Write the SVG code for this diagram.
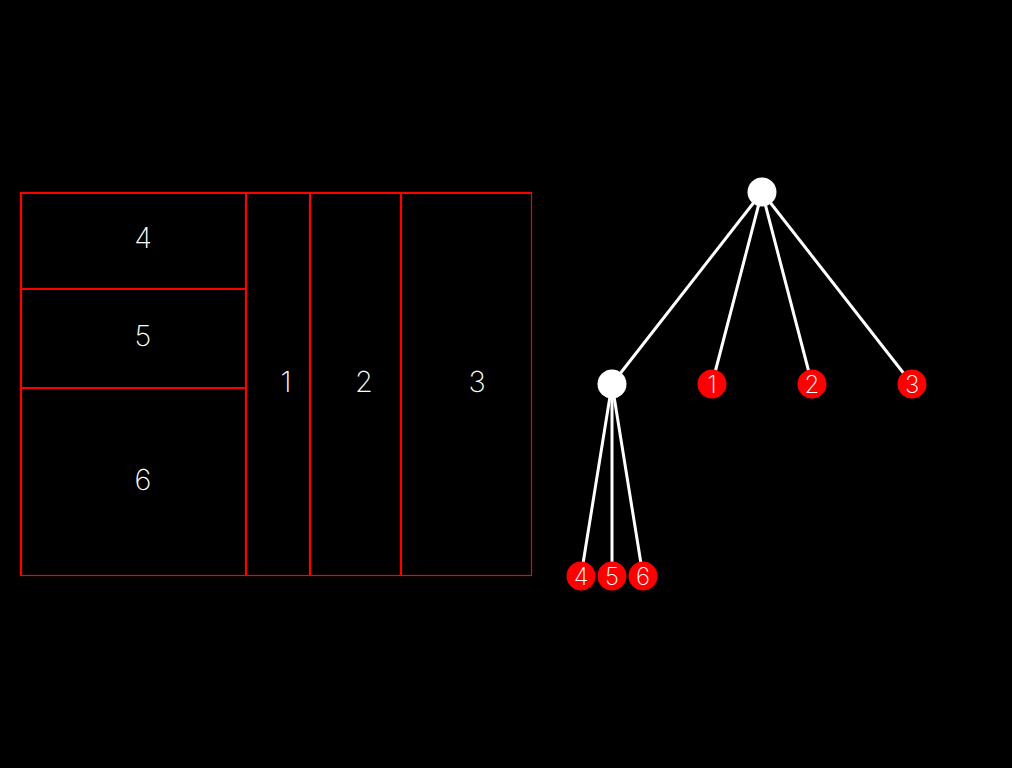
<svg xmlns="http://www.w3.org/2000/svg" width="1012" height="768" viewBox="0 0 1012 768">
  <style>
    .frame { fill: none; stroke: #ff0000; stroke-width: 1.2; }
    .div { stroke: #ff0000; stroke-width: 2.2; }
    .lbl { fill: #ffffff; font-family: Inter, "DejaVu Sans", sans-serif; font-weight: 200; text-anchor: middle; }
    .big { font-size: 29px; }
    .small { font-size: 24px; }
    .edge { stroke: #ffffff; stroke-width: 3; }
    .inner { fill: #ffffff; }
    .leaf { fill: #ff0000; }
  </style>
  <rect width="1012" height="768" fill="#000000"/>

  <!-- partition of the rectangle -->
  <g id="layout">
    <rect class="frame" x="20.5" y="192.5" width="511" height="383"/>
    <line class="div" x1="21" y1="193" x2="21" y2="575"/>
    <line class="div" x1="20" y1="193" x2="531" y2="193"/>
    <line class="div" x1="246" y1="192" x2="246" y2="575"/>
    <line class="div" x1="310" y1="192" x2="310" y2="575"/>
    <line class="div" x1="401" y1="192" x2="401" y2="575"/>
    <line class="div" x1="20" y1="289" x2="246" y2="289"/>
    <line class="div" x1="20" y1="388" x2="246" y2="388"/>
    <text class="lbl big" x="143" y="248">4</text>
    <text class="lbl big" x="143" y="346">5</text>
    <text class="lbl big" x="143" y="490">6</text>
    <text class="lbl big" x="286" y="392">1</text>
    <text class="lbl big" x="364" y="392">2</text>
    <text class="lbl big" x="477" y="392">3</text>
  </g>

  <!-- tree edges -->
  <g id="connectors">
    <line class="edge" x1="762" y1="192" x2="612" y2="384"/>
    <line class="edge" x1="762" y1="192" x2="712" y2="384"/>
    <line class="edge" x1="762" y1="192" x2="812" y2="384"/>
    <line class="edge" x1="762" y1="192" x2="912" y2="384"/>
    <line class="edge" x1="612" y1="384" x2="581" y2="576"/>
    <line class="edge" x1="612" y1="384" x2="612" y2="576"/>
    <line class="edge" x1="612" y1="384" x2="643" y2="576"/>
  </g>

  <!-- tree nodes -->
  <g id="root"><circle class="inner" cx="762" cy="192" r="14.5"/></g>
  <g id="split"><circle class="inner" cx="612" cy="384" r="14.5"/></g>
  <g id="leaf1"><circle class="leaf" cx="712" cy="384" r="14.5"/><text class="lbl small" x="712" y="393">1</text></g>
  <g id="leaf2"><circle class="leaf" cx="812" cy="384" r="14.5"/><text class="lbl small" x="812" y="393">2</text></g>
  <g id="leaf3"><circle class="leaf" cx="912" cy="384" r="14.5"/><text class="lbl small" x="912" y="393">3</text></g>
  <g id="leaf4"><circle class="leaf" cx="581" cy="576" r="14.5"/><text class="lbl small" x="581" y="585">4</text></g>
  <g id="leaf5"><circle class="leaf" cx="612" cy="576" r="14.5"/><text class="lbl small" x="612" y="585">5</text></g>
  <g id="leaf6"><circle class="leaf" cx="643" cy="576" r="14.5"/><text class="lbl small" x="643" y="585">6</text></g>
</svg>
